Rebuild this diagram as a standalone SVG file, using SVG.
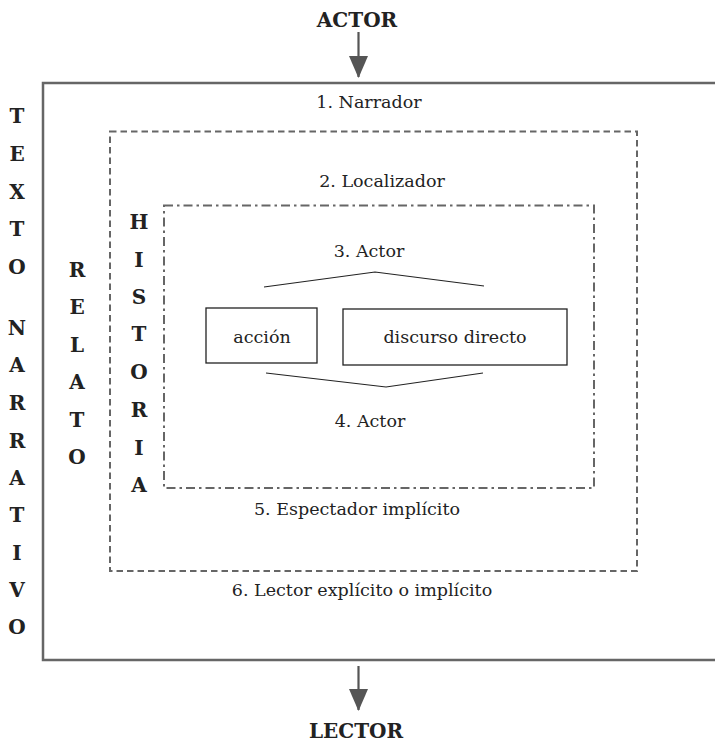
<svg xmlns="http://www.w3.org/2000/svg" width="715" height="743" viewBox="0 0 715 743">
<defs>
<style>
.t{font-family:"DejaVu Serif","Liberation Serif",serif;font-size:17.5px;fill:#222;text-anchor:middle}
.b{font-family:"DejaVu Serif","Liberation Serif",serif;font-size:20px;font-weight:bold;fill:#222;text-anchor:middle}
.box{fill:#fff;stroke:#222;stroke-width:1.3}
.br{fill:none;stroke:#222;stroke-width:1.2}
.ar{stroke:#555;stroke-width:2.2}
</style>
<marker id="ah" viewBox="0 0 22 19" refX="21" refY="9.5" markerWidth="22" markerHeight="19" markerUnits="userSpaceOnUse" orient="auto">
<path d="M0,0 L22,9.5 L0,19 z" fill="#555"/>
</marker>
</defs>
<rect width="715" height="743" fill="#fff"/>

<g id="texto-narrativo">
<path d="M715,83 H43 V660 H715" fill="none" stroke="#666" stroke-width="2.5"/>
<text class="b" x="17" y="123">T</text>
<text class="b" x="17" y="161">E</text>
<text class="b" x="17" y="199">X</text>
<text class="b" x="17" y="236">T</text>
<text class="b" x="17" y="274">O</text>
<text class="b" x="17" y="335">N</text>
<text class="b" x="17" y="372">A</text>
<text class="b" x="17" y="410">R</text>
<text class="b" x="17" y="448">R</text>
<text class="b" x="17" y="485">A</text>
<text class="b" x="17" y="522">T</text>
<text class="b" x="17" y="560">I</text>
<text class="b" x="17" y="597">V</text>
<text class="b" x="17" y="634">O</text>
<text class="t" x="369" y="108">1. Narrador</text>
</g>

<g id="relato">
<rect x="110" y="131.5" width="527" height="439.5" fill="none" stroke="#666" stroke-width="2" stroke-dasharray="6.5,4"/>
<text class="b" x="77" y="277">R</text>
<text class="b" x="77" y="314">E</text>
<text class="b" x="77" y="352">L</text>
<text class="b" x="77" y="389">A</text>
<text class="b" x="77" y="427">T</text>
<text class="b" x="77" y="464">O</text>
<text class="t" x="382" y="187">2. Localizador</text>
<text class="t" x="362" y="596">6. Lector explícito o implícito</text>
</g>

<g id="historia">
<rect x="164" y="205.5" width="430" height="282.5" fill="none" stroke="#666" stroke-width="2" stroke-dasharray="9,4,2.5,4"/>
<text class="b" x="139" y="229">H</text>
<text class="b" x="139" y="267">I</text>
<text class="b" x="139" y="304">S</text>
<text class="b" x="139" y="341">T</text>
<text class="b" x="139" y="379">O</text>
<text class="b" x="139" y="417">R</text>
<text class="b" x="139" y="455">I</text>
<text class="b" x="139" y="492">A</text>
<text class="t" x="357" y="515">5. Espectador implícito</text>
</g>

<g id="actor3">
<text class="t" x="369" y="257">3. Actor</text>
<path class="br" d="M264,287 L375,272 L484,286"/>
</g>

<g id="actor4">
<path class="br" d="M266,373 L386,387 L483,373"/>
<text class="t" x="370" y="427">4. Actor</text>
</g>

<g id="accion">
<rect class="box" x="206" y="308" width="111" height="55"/>
<text class="t" x="262" y="343">acción</text>
</g>

<g id="discurso">
<rect class="box" x="343" y="309" width="224" height="56"/>
<text class="t" x="455" y="343">discurso directo</text>
</g>

<g id="actor-in">
<text class="b" x="357" y="27">ACTOR</text>
</g>

<g id="lector-out">
<text class="b" x="356" y="738">LECTOR</text>
</g>

<g id="connectors">
<line class="ar" x1="358.5" y1="32" x2="358.5" y2="77" marker-end="url(#ah)"/>
<line class="ar" x1="358.5" y1="666" x2="358.5" y2="710" marker-end="url(#ah)"/>
</g>
</svg>
